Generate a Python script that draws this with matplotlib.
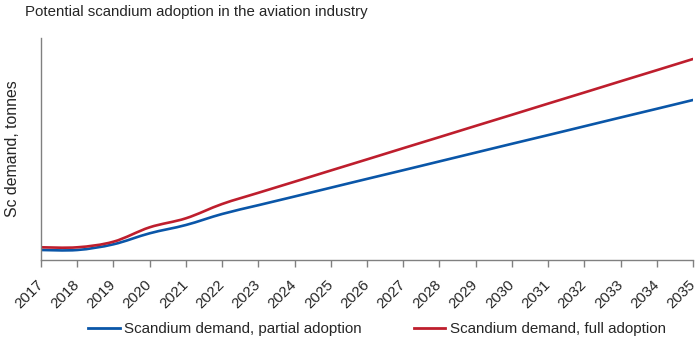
import numpy as np
import matplotlib
matplotlib.use("Agg")
from matplotlib import pyplot as plt
from matplotlib.path import Path
from matplotlib.patches import PathPatch
from matplotlib.lines import Line2D

plt.rcParams['font.family'] = ['Liberation Sans', 'DejaVu Sans']

years = list(range(2017, 2036))
partial_adoption = [10.0, 10.0, 15.7, 26.7, 35.0, 46.0, 54.8, 63.5, 72.3, 81.1,
                    89.8, 98.6, 107.4, 116.2, 124.9, 133.7, 142.5, 151.2, 160.0]
full_adoption = [12.7, 12.7, 18.3, 32.7, 41.7, 56.0, 67.2, 78.3, 89.5, 100.6,
                 111.8, 122.9, 134.1, 145.2, 156.4, 167.5, 178.7, 189.8, 201.0]
series_labels = ["Scandium demand, partial adoption", "Scandium demand, full adoption"]
series_colors = ["#0A56A8", "#BE1E2D"]

TEXT_COLOR = "#262626"
AXIS_COLOR = "#808080"


def smooth_path(xs, ys, tension=1 / 6):
    # Catmull-Rom style bezier through the data points (like a spreadsheet "smoothed line")
    xs = np.asarray(xs, dtype=float)
    ys = np.asarray(ys, dtype=float)
    verts = [(xs[0], ys[0])]
    codes = [Path.MOVETO]
    n = len(xs)
    for i in range(n - 1):
        i0 = max(i - 1, 0)
        i3 = min(i + 2, n - 1)
        c1 = (xs[i] + (xs[i + 1] - xs[i0]) * tension, ys[i] + (ys[i + 1] - ys[i0]) * tension)
        c2 = (xs[i + 1] - (xs[i3] - xs[i]) * tension, ys[i + 1] - (ys[i3] - ys[i]) * tension)
        verts += [c1, c2, (xs[i + 1], ys[i + 1])]
        codes += [Path.CURVE4] * 3
    return Path(verts, codes)


fig = plt.figure(figsize=(6.98, 3.48), dpi=100)
ax = fig.add_axes([41 / 698, 1 - 260 / 348, 652 / 698, 222 / 348])

for values, color in zip([partial_adoption, full_adoption], series_colors):
    ax.add_patch(PathPatch(smooth_path(years, values), facecolor="none",
                           edgecolor=color, linewidth=1.9, capstyle="round"))

ax.set_xlim(years[0], years[-1])
ax.set_ylim(0, 222)
ax.set_xticks(years)
ax.set_xticklabels([str(y) for y in years], rotation=45, ha="right", va="center",
                   rotation_mode="anchor", fontsize=10.8, color=TEXT_COLOR)
ax.tick_params(axis="x", direction="out", length=5, width=1, color=AXIS_COLOR, pad=11)
ax.set_yticks([])

for side in ["top", "right"]:
    ax.spines[side].set_visible(False)
for side in ["left", "bottom"]:
    ax.spines[side].set_color(AXIS_COLOR)
    ax.spines[side].set_linewidth(1)

ax.set_ylabel("Sc demand, tonnes", fontsize=11.4, color=TEXT_COLOR, labelpad=15)

fig.text(25 / 698, 1 - 12 / 348, "Potential scandium adoption in the aviation industry",
         fontsize=10.8, color=TEXT_COLOR, ha="left", va="center")

handles = [Line2D([], [], color=c, linewidth=2) for c in series_colors]
fig.legend(handles, series_labels, loc="center", bbox_to_anchor=(377 / 698, 1 - 329 / 348),
           ncol=2, frameon=False, fontsize=10.9, handlelength=2.1, handletextpad=0.3,
           columnspacing=3.4, labelcolor=TEXT_COLOR)

fig.savefig("out.png", dpi=100)
